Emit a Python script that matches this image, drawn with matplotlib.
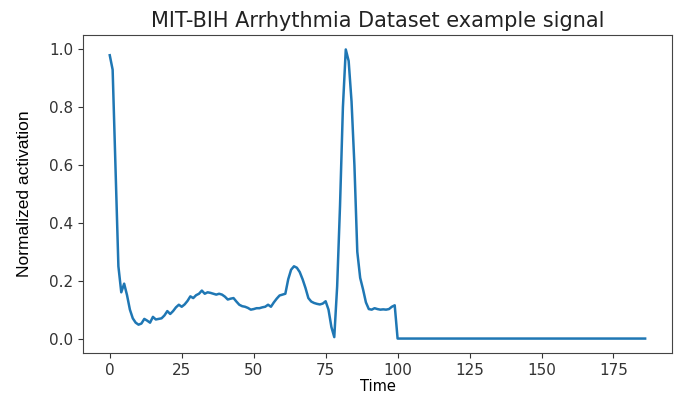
import numpy as np
import matplotlib.pyplot as plt

# one heartbeat from MIT-BIH, 187 samples, zero padded after sample 99
beat = [0.98, 0.93, 0.59, 0.25, 0.16, 0.19, 0.15, 0.10, 0.07, 0.055,
        0.048, 0.052, 0.068, 0.062, 0.055, 0.075, 0.066, 0.068, 0.070, 0.080,
        0.095, 0.085, 0.095, 0.108, 0.117, 0.110, 0.118, 0.130, 0.146, 0.140,
        0.150, 0.155, 0.166, 0.155, 0.160, 0.158, 0.155, 0.152, 0.155, 0.152,
        0.145, 0.135, 0.138, 0.140, 0.128, 0.117, 0.112, 0.110, 0.106, 0.100,
        0.102, 0.105, 0.105, 0.108, 0.110, 0.117, 0.110, 0.125, 0.138, 0.149,
        0.152, 0.155, 0.205, 0.238, 0.250, 0.245, 0.230, 0.205, 0.175, 0.140,
        0.128, 0.123, 0.120, 0.118, 0.121, 0.129, 0.100, 0.040, 0.005, 0.180,
        0.460, 0.800, 1.000, 0.960, 0.820, 0.600, 0.300, 0.210, 0.170, 0.125,
        0.102, 0.100, 0.105, 0.102, 0.100, 0.101, 0.100, 0.102, 0.110, 0.115]
padding = [0.0] * 87
signal = np.array(beat + padding)
time = np.arange(len(signal))

fig = plt.figure(figsize=(6.78, 3.95), dpi=100)
ax = fig.add_axes([0.1224, 0.1063, 0.8686, 0.8051])
ax.plot(time, signal, color='#1f77b4', lw=1.8)
ax.set_title("MIT-BIH Arrhythmia Dataset example signal", fontsize=15, color='#222222')
ax.set_xlabel("Time", fontsize=10.5, labelpad=1)
ax.set_ylabel("Normalized activation", family='Liberation Sans', fontsize=12.5, labelpad=12)
ax.tick_params(labelsize=11, colors='#333333')
for s in ax.spines.values():
    s.set_color('#444444')

fig.savefig("out.png", dpi=100)
